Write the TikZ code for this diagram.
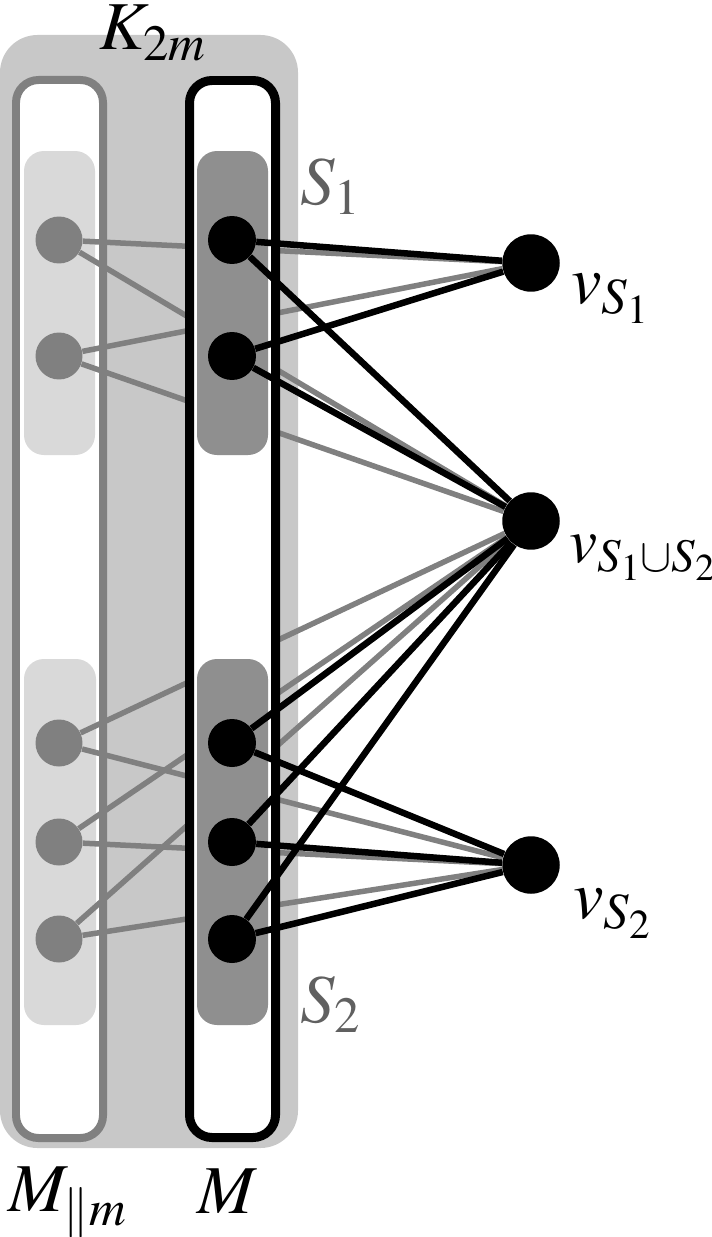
\documentclass[tikz,border=0pt]{standalone}
\usepackage{mathptmx}

\definecolor{kfill}{RGB}{200,200,200}
\definecolor{sfill}{RGB}{217,217,217}
\definecolor{mfill}{RGB}{143,143,143}
\definecolor{egray}{RGB}{128,128,128}
\definecolor{tgray}{RGB}{96,96,96}

\begin{document}
\begin{tikzpicture}[x=0.02cm, y=-0.02cm,
    gnode/.style={circle, fill=egray, inner sep=0pt, minimum size=0.94cm},
    bnode/.style={circle, fill=black, inner sep=0pt, minimum size=0.96cm},
    vnode/.style={circle, fill=black, inner sep=0pt, minimum size=1.15cm},
    gedge/.style={egray, line width=0.11cm},
    bedge/.style={black, line width=0.13cm},
    lbl/.style={anchor=base west, inner sep=0pt, font=\fontsize{39}{44}\selectfont}]
        \useasboundingbox (0,0) rectangle (712,1237);

        % K_{2m}
        \fill[kfill, rounded corners=0.75cm] (0,35) rectangle (298,1148);
        \node[lbl] (lK) at (99,50) {$K_{2m}$};

        % left column
        \draw[egray, fill=white, line width=0.16cm, rounded corners=0.45cm] (16,80) rectangle (103,1138);
        \fill[sfill, rounded corners=0.4cm] (24,151) rectangle (95,455);
        \fill[sfill, rounded corners=0.4cm] (24,659) rectangle (96,1025);
        \node[lbl] (lMm) at (8,1211) {$M_{\|m}$};

        \node[gnode] (a1) at (59,240) {};
        \node[gnode] (a2) at (59,356) {};
        \node[gnode] (a3) at (59,743) {};
        \node[gnode] (a4) at (59,842) {};
        \node[gnode] (a5) at (59,939) {};

        \node[vnode] (v1) at (531,263) {};
        \node[vnode] (v12) at (531,521) {};
        \node[vnode] (v2) at (531,865) {};

        \draw[gedge] (a1) -- (v1);
        \draw[gedge] (a1) -- (v12);
        \draw[gedge] (a2) -- (v1);
        \draw[gedge] (a2) -- (v12);
        \draw[gedge] (a3) -- (v12);
        \draw[gedge] (a3) -- (v2);
        \draw[gedge] (a4) -- (v12);
        \draw[gedge] (a4) -- (v2);
        \draw[gedge] (a5) -- (v12);
        \draw[gedge] (a5) -- (v2);

        % M
        \draw[black, fill=white, line width=0.18cm, rounded corners=0.45cm] (189.5,80.5) rectangle (275.5,1137.5);
        \fill[mfill, rounded corners=0.4cm] (197,151) rectangle (268,455);
        \fill[mfill, rounded corners=0.4cm] (197,659) rectangle (268,1025);
        \node[lbl] (lM) at (197,1213) {$M$};
        \node[lbl, text=tgray] (lS1) at (300,204) {$S_1$};
        \node[lbl, text=tgray] (lS2) at (300,1022) {$S_2$};

        \node[bnode] (b1) at (232,240) {};
        \node[bnode] (b2) at (232,356) {};
        \node[bnode] (b3) at (232,743) {};
        \node[bnode] (b4) at (232,842) {};
        \node[bnode] (b5) at (232,939) {};

        \draw[bedge] (b1) -- (v1);
        \draw[bedge] (b1) -- (v12);
        \draw[bedge] (b2) -- (v1);
        \draw[bedge] (b2) -- (v12);
        \draw[bedge] (b3) -- (v12);
        \draw[bedge] (b3) -- (v2);
        \draw[bedge] (b4) -- (v12);
        \draw[bedge] (b4) -- (v2);
        \draw[bedge] (b5) -- (v12);
        \draw[bedge] (b5) -- (v2);

        \node[lbl] (lv1) at (571,303) {$v_{S_1}$};
        \node[lbl, font=\fontsize{36}{40}\selectfont] (lv12) at (569,562) {$v_{S_1\cup S_2}$};
        \node[lbl] (lv2) at (573,918) {$v_{S_2}$};
      \end{tikzpicture}
\end{document}
